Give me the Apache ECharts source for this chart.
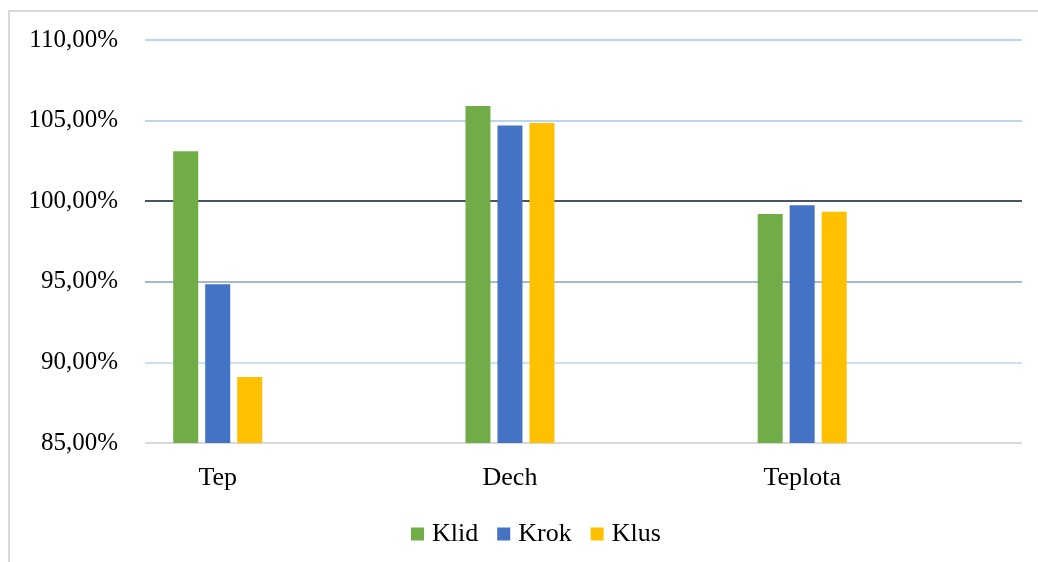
<!DOCTYPE html>
<html>
<head>
<meta charset="utf-8">
<script src="https://cdn.jsdelivr.net/npm/echarts@6/dist/echarts.min.js"></script>
<style>
  html, body { margin: 0; padding: 0; background: #ffffff; }
  #chart { width: 1038px; height: 562px; }
</style>
</head>
<body>
<div id="chart"></div>
<script>
// Categories and series values (percent)
const categories = ['Tep', 'Dech', 'Teplota'];
const seriesNames = ['Klid', 'Krok', 'Klus'];
const klid = [103.1, 105.9, 99.2];
const krok = [94.85, 104.7, 99.75];
const klus = [89.1, 104.85, 99.35];
const seriesColors = ['#70ad47', '#4472c4', '#ffc000'];

// Y axis range and tick step
const yMin = 85;
const yMax = 110;
const yStep = 5;

const font = '"Liberation Serif", "Times New Roman", serif';

function pct(v) {
  return v.toFixed(2).replace('.', ',') + '%';
}

const chart = echarts.init(document.getElementById('chart'), null, { renderer: 'canvas' });

const values = [klid, krok, klus];

const option = {
  animation: false,
  backgroundColor: '#ffffff',
  textStyle: { fontFamily: font },
  graphic: [{
    type: 'rect',
    shape: { x: 9, y: 11, width: 1200, height: 700 },
    style: { fill: 'none', stroke: '#d9d9d9', lineWidth: 2 },
    silent: true
  }],
  legend: {
    data: seriesNames,
    left: 406,
    top: 516,
    itemWidth: 13,
    itemHeight: 13,
    itemGap: 19,
    icon: 'rect',
    textStyle: { fontFamily: font, fontSize: 26, color: '#000000', padding: [0, 0, 0, 3] }
  },
  grid: [
    // value grid with the gridlines and percent labels
    { left: 145, right: 16, top: 40, bottom: 119, containLabel: false },
    // category grid holding the bars
    { left: 71.6, right: 89.7, top: 40, bottom: 119, containLabel: false }
  ],
  xAxis: [
    {
      type: 'category', gridIndex: 0, data: categories,
      axisLine: { show: false }, axisTick: { show: false },
      axisLabel: { show: false }, splitLine: { show: false }
    },
    {
      type: 'category', gridIndex: 1, data: categories,
      axisLine: { show: false }, axisTick: { show: false },
      axisLabel: { fontFamily: font, fontSize: 26, color: '#000000', margin: 22 }
    }
  ],
  yAxis: [
    {
      type: 'value', gridIndex: 0, min: yMin, max: yMax, interval: yStep,
      axisLine: { show: false }, axisTick: { show: false },
      axisLabel: {
        fontFamily: font, fontSize: 25, color: '#000000', margin: 27,
        formatter: pct
      },
      splitLine: {
        show: true,
        lineStyle: {
          width: 2,
          color: ['#d9d9d9', '#cfe0f2', '#a3b9d3', '#4a5563', '#bcd6ef', '#bcd6ef']
        }
      }
    },
    {
      type: 'value', gridIndex: 1, min: yMin, max: yMax, interval: yStep,
      show: false, splitLine: { show: false }
    }
  ],
  series: seriesNames.map((name, i) => ({
    name: name,
    type: 'bar',
    xAxisIndex: 1,
    yAxisIndex: 1,
    data: values[i],
    barWidth: 25,
    barGap: '28%',
    itemStyle: { color: seriesColors[i] },
    z: 3
  }))
};

chart.setOption(option);
</script>
</body>
</html>
